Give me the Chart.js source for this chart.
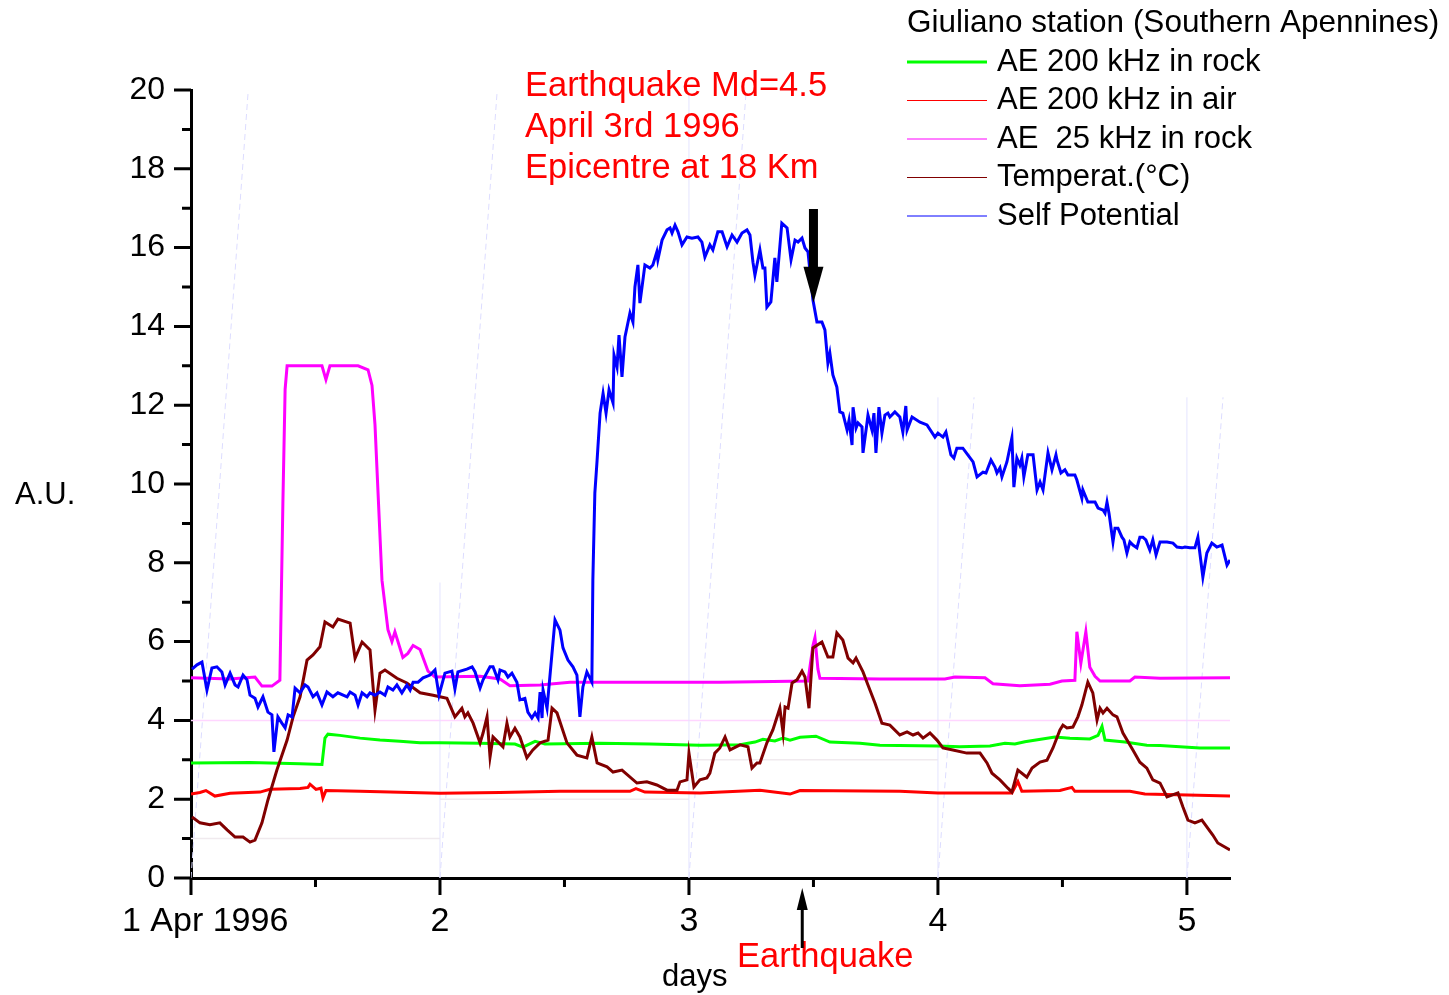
<!DOCTYPE html>
<html>
<head>
<meta charset="utf-8">
<script src="https://cdn.jsdelivr.net/npm/chart.js@4.4.0/dist/chart.umd.min.js"></script>
<style>
  html, body { margin: 0; padding: 0; background: #fff; }
  #wrap { width: 1449px; height: 995px; }
</style>
</head>
<body>
<div id="wrap"><canvas id="chart" width="1449" height="995"></canvas></div>
<script>
const FONT = '"Liberation Sans", Arial, sans-serif';

// axis ticks
const xTickValues = [1, 2, 3, 4, 5];
const xTickLabels = ['   1 Apr 1996', '2', '3', '4', '5'];
const xMinorTicks = [1.5, 2.5, 3.5, 4.5];
const yTickValues = [0, 2, 4, 6, 8, 10, 12, 14, 16, 18, 20];
const yMinorTicks = [1, 3, 5, 7, 9, 11, 13, 15, 17, 19];

// AE 200 kHz in rock
const rockDays = [1.000, 1.237, 1.438, 1.526, 1.538, 1.550, 1.598, 1.679, 1.759, 1.839, 1.920, 2.000, 2.161, 2.301, 2.333, 2.382, 2.422, 2.643, 2.843, 3.044, 3.205, 3.265, 3.297, 3.345, 3.378, 3.406, 3.446, 3.510, 3.566, 3.687, 3.767, 4.000, 4.088, 4.209, 4.269, 4.309, 4.349, 4.470, 4.530, 4.610, 4.643, 4.659, 4.671, 4.751, 4.839, 4.892, 5.052, 5.173];
const rockValues = [2.92, 2.93, 2.90, 2.88, 3.55, 3.65, 3.62, 3.55, 3.50, 3.47, 3.43, 3.43, 3.42, 3.40, 3.32, 3.47, 3.40, 3.42, 3.40, 3.37, 3.38, 3.45, 3.52, 3.48, 3.55, 3.50, 3.57, 3.60, 3.45, 3.42, 3.37, 3.35, 3.33, 3.35, 3.42, 3.40, 3.46, 3.58, 3.55, 3.53, 3.62, 3.85, 3.50, 3.45, 3.37, 3.36, 3.30, 3.30];

// AE 200 kHz in air
const airDays = [1.000, 1.036, 1.060, 1.096, 1.157, 1.277, 1.317, 1.438, 1.470, 1.478, 1.502, 1.522, 1.530, 1.542, 1.679, 2.000, 2.241, 2.482, 2.763, 2.787, 2.823, 3.044, 3.285, 3.406, 3.446, 3.847, 4.000, 4.297, 4.321, 4.337, 4.490, 4.538, 4.550, 4.771, 4.831, 5.173];
const airValues = [2.13, 2.17, 2.22, 2.08, 2.15, 2.18, 2.25, 2.27, 2.30, 2.38, 2.25, 2.28, 2.03, 2.22, 2.20, 2.15, 2.17, 2.20, 2.20, 2.27, 2.18, 2.16, 2.23, 2.13, 2.22, 2.20, 2.16, 2.16, 2.45, 2.20, 2.22, 2.30, 2.20, 2.20, 2.13, 2.08];

// AE 25 kHz in rock
const ae25Days = [1.000, 1.157, 1.257, 1.285, 1.325, 1.357, 1.369, 1.378, 1.386, 1.526, 1.542, 1.558, 1.671, 1.711, 1.727, 1.739, 1.767, 1.791, 1.807, 1.819, 1.851, 1.871, 1.892, 1.920, 1.952, 1.980, 2.161, 2.241, 2.281, 2.402, 2.522, 3.124, 3.478, 3.498, 3.506, 3.518, 3.526, 3.767, 4.028, 4.068, 4.189, 4.221, 4.329, 4.450, 4.498, 4.550, 4.558, 4.574, 4.594, 4.610, 4.631, 4.651, 4.771, 4.791, 4.892, 5.173];
const ae25Values = [5.08, 5.05, 5.10, 4.87, 4.87, 5.02, 9.50, 12.4, 13.0, 13.0, 12.65, 13.0, 13.0, 12.9, 12.5, 11.5, 7.56, 6.30, 6.00, 6.25, 5.60, 5.70, 5.90, 5.80, 5.25, 5.10, 5.12, 5.05, 4.88, 4.90, 4.97, 4.97, 5.00, 5.90, 6.10, 5.30, 5.07, 5.05, 5.05, 5.10, 5.08, 4.93, 4.88, 4.92, 5.00, 5.02, 6.25, 5.45, 6.25, 5.35, 5.12, 5.00, 5.00, 5.10, 5.07, 5.08];

// Temperature
const tempDays = [1.004, 1.036, 1.076, 1.116, 1.145, 1.177, 1.209, 1.237, 1.257, 1.285, 1.309, 1.345, 1.386, 1.410, 1.438, 1.466, 1.490, 1.518, 1.538, 1.570, 1.590, 1.639, 1.659, 1.687, 1.719, 1.739, 1.759, 1.779, 1.827, 1.867, 1.920, 1.972, 2.000, 2.028, 2.060, 2.088, 2.100, 2.112, 2.133, 2.161, 2.173, 2.189, 2.201, 2.213, 2.253, 2.269, 2.281, 2.301, 2.321, 2.349, 2.373, 2.402, 2.434, 2.450, 2.470, 2.510, 2.550, 2.590, 2.610, 2.631, 2.671, 2.695, 2.731, 2.791, 2.831, 2.871, 2.912, 2.952, 2.964, 2.992, 3.000, 3.020, 3.044, 3.072, 3.084, 3.104, 3.124, 3.145, 3.165, 3.205, 3.237, 3.253, 3.273, 3.285, 3.313, 3.337, 3.365, 3.378, 3.386, 3.398, 3.414, 3.434, 3.454, 3.466, 3.482, 3.498, 3.534, 3.558, 3.578, 3.594, 3.618, 3.639, 3.659, 3.671, 3.699, 3.719, 3.747, 3.775, 3.807, 3.847, 3.876, 3.900, 3.920, 3.940, 3.968, 3.996, 4.020, 4.060, 4.116, 4.169, 4.197, 4.217, 4.249, 4.281, 4.297, 4.321, 4.357, 4.378, 4.410, 4.438, 4.462, 4.490, 4.502, 4.518, 4.542, 4.562, 4.578, 4.602, 4.622, 4.639, 4.651, 4.663, 4.679, 4.703, 4.719, 4.743, 4.783, 4.811, 4.839, 4.863, 4.892, 4.920, 4.964, 4.984, 5.004, 5.032, 5.060, 5.104, 5.124, 5.173];
const tempValues = [1.55, 1.40, 1.35, 1.40, 1.22, 1.04, 1.04, 0.91, 0.96, 1.40, 1.98, 2.74, 3.50, 4.09, 4.60, 5.53, 5.66, 5.87, 6.50, 6.37, 6.57, 6.47, 5.58, 5.99, 5.79, 4.26, 5.20, 5.28, 5.07, 4.95, 4.70, 4.64, 4.60, 4.56, 4.09, 4.31, 4.09, 4.19, 3.93, 3.43, 3.68, 4.09, 3.07, 3.58, 3.33, 3.93, 3.58, 3.80, 3.58, 3.05, 3.25, 3.43, 3.50, 4.31, 4.19, 3.43, 3.12, 3.05, 3.58, 2.92, 2.82, 2.69, 2.74, 2.41, 2.44, 2.36, 2.23, 2.23, 2.44, 2.49, 3.17, 2.31, 2.49, 2.54, 2.66, 3.17, 3.30, 3.58, 3.25, 3.38, 3.33, 2.79, 2.92, 2.92, 3.43, 3.76, 4.31, 3.68, 4.34, 4.31, 4.95, 5.03, 5.25, 5.10, 4.31, 5.84, 5.99, 5.61, 5.61, 6.22, 6.04, 5.58, 5.46, 5.58, 5.23, 4.90, 4.44, 3.93, 3.88, 3.63, 3.71, 3.63, 3.68, 3.55, 3.68, 3.50, 3.30, 3.25, 3.17, 3.17, 2.92, 2.66, 2.49, 2.28, 2.18, 2.74, 2.56, 2.79, 2.94, 2.99, 3.30, 3.76, 3.88, 3.81, 3.83, 4.09, 4.39, 4.97, 4.70, 4.01, 4.31, 4.19, 4.31, 4.14, 4.09, 3.68, 3.25, 2.94, 2.79, 2.49, 2.41, 2.06, 2.16, 1.80, 1.47, 1.40, 1.47, 1.09, 0.89, 0.71];

// Self Potential
const spDays = [1.004, 1.024, 1.044, 1.064, 1.084, 1.104, 1.124, 1.137, 1.157, 1.177, 1.189, 1.209, 1.225, 1.237, 1.257, 1.269, 1.289, 1.309, 1.325, 1.333, 1.349, 1.365, 1.378, 1.390, 1.406, 1.418, 1.438, 1.458, 1.470, 1.490, 1.506, 1.526, 1.546, 1.570, 1.590, 1.627, 1.639, 1.659, 1.671, 1.687, 1.707, 1.719, 1.739, 1.759, 1.779, 1.791, 1.811, 1.827, 1.847, 1.867, 1.880, 1.892, 1.912, 1.932, 1.960, 1.980, 1.996, 2.020, 2.048, 2.060, 2.072, 2.108, 2.129, 2.141, 2.161, 2.173, 2.201, 2.213, 2.233, 2.241, 2.261, 2.273, 2.289, 2.309, 2.321, 2.341, 2.353, 2.369, 2.382, 2.394, 2.402, 2.410, 2.414, 2.430, 2.462, 2.482, 2.494, 2.514, 2.534, 2.550, 2.562, 2.574, 2.590, 2.610, 2.614, 2.622, 2.631, 2.643, 2.655, 2.667, 2.679, 2.695, 2.699, 2.711, 2.719, 2.731, 2.743, 2.763, 2.775, 2.783, 2.795, 2.803, 2.823, 2.843, 2.855, 2.871, 2.875, 2.892, 2.912, 2.924, 2.932, 2.944, 2.956, 2.972, 2.992, 3.012, 3.036, 3.052, 3.064, 3.084, 3.096, 3.116, 3.133, 3.153, 3.173, 3.193, 3.213, 3.233, 3.245, 3.257, 3.265, 3.285, 3.297, 3.305, 3.313, 3.329, 3.345, 3.353, 3.373, 3.394, 3.410, 3.426, 3.438, 3.454, 3.466, 3.478, 3.498, 3.514, 3.534, 3.546, 3.558, 3.566, 3.578, 3.594, 3.606, 3.618, 3.635, 3.643, 3.655, 3.659, 3.671, 3.679, 3.695, 3.699, 3.715, 3.719, 3.735, 3.743, 3.751, 3.763, 3.775, 3.787, 3.799, 3.807, 3.827, 3.847, 3.859, 3.871, 3.876, 3.896, 3.928, 3.956, 3.988, 4.000, 4.020, 4.032, 4.052, 4.064, 4.076, 4.100, 4.120, 4.141, 4.157, 4.181, 4.193, 4.213, 4.229, 4.237, 4.249, 4.257, 4.277, 4.297, 4.305, 4.317, 4.329, 4.337, 4.345, 4.361, 4.382, 4.398, 4.410, 4.422, 4.442, 4.458, 4.474, 4.478, 4.494, 4.510, 4.522, 4.550, 4.558, 4.578, 4.582, 4.602, 4.631, 4.643, 4.663, 4.671, 4.679, 4.687, 4.703, 4.711, 4.723, 4.739, 4.747, 4.759, 4.771, 4.783, 4.799, 4.811, 4.823, 4.835, 4.851, 4.863, 4.876, 4.892, 4.920, 4.944, 4.960, 4.980, 4.992, 5.012, 5.032, 5.044, 5.064, 5.080, 5.100, 5.120, 5.141, 5.161, 5.173];
const spValues = [5.30, 5.41, 5.48, 4.77, 5.33, 5.36, 5.23, 4.90, 5.20, 4.90, 4.85, 5.15, 5.03, 4.64, 4.56, 4.34, 4.60, 4.21, 4.14, 3.20, 4.09, 3.93, 3.81, 4.14, 4.09, 4.82, 4.70, 4.90, 4.85, 4.60, 4.70, 4.39, 4.72, 4.60, 4.70, 4.60, 4.72, 4.64, 4.39, 4.70, 4.60, 4.70, 4.64, 4.72, 4.64, 4.85, 4.77, 4.90, 4.70, 4.90, 4.77, 4.97, 4.97, 5.08, 5.15, 5.28, 4.64, 5.20, 5.25, 4.80, 5.23, 5.30, 5.36, 5.23, 4.82, 5.03, 5.36, 5.36, 5.03, 5.28, 5.23, 5.10, 5.20, 4.97, 4.52, 4.56, 4.21, 4.06, 4.19, 4.06, 4.72, 4.06, 4.77, 4.31, 6.55, 6.29, 5.84, 5.53, 5.36, 5.15, 4.09, 4.85, 5.23, 4.97, 7.56, 9.77, 10.6, 11.8, 12.3, 11.8, 12.39, 12.06, 13.27, 12.97, 13.78, 12.72, 13.73, 14.34, 14.11, 15.00, 15.56, 14.59, 15.56, 15.48, 15.56, 15.89, 15.69, 16.19, 16.45, 16.50, 16.37, 16.57, 16.40, 16.07, 16.27, 16.24, 16.27, 16.14, 15.76, 16.07, 15.94, 16.40, 16.40, 16.02, 16.32, 16.14, 16.37, 16.45, 16.32, 15.63, 15.30, 15.94, 15.48, 15.48, 14.49, 14.62, 15.74, 15.13, 16.62, 16.50, 15.69, 16.19, 16.14, 16.24, 15.99, 15.89, 14.67, 14.11, 14.11, 13.91, 13.07, 13.32, 12.77, 12.46, 11.83, 11.80, 11.37, 11.62, 10.99, 11.95, 11.42, 11.55, 11.45, 10.79, 11.55, 11.75, 11.37, 11.80, 10.79, 11.95, 11.29, 11.75, 11.80, 11.70, 11.83, 11.70, 11.32, 11.98, 11.37, 11.70, 11.57, 11.50, 11.19, 11.29, 11.19, 11.32, 10.74, 10.66, 10.91, 10.91, 10.74, 10.56, 10.18, 10.30, 10.28, 10.61, 10.43, 10.28, 10.41, 10.18, 10.56, 11.17, 9.92, 10.66, 10.48, 10.66, 10.18, 10.74, 10.74, 9.85, 10.05, 9.85, 10.79, 10.36, 10.74, 10.61, 10.28, 10.36, 10.23, 10.23, 10.10, 9.64, 9.85, 9.54, 9.54, 9.39, 9.34, 9.26, 9.54, 9.26, 8.53, 8.88, 8.88, 8.65, 8.58, 8.25, 8.53, 8.45, 8.38, 8.65, 8.65, 8.58, 8.32, 8.58, 8.20, 8.53, 8.53, 8.50, 8.40, 8.38, 8.40, 8.38, 8.38, 8.65, 7.64, 8.25, 8.50, 8.40, 8.45, 7.94, 8.07];

// faint guide lines left in the original plot (start/end points)
const guideVertDays = [2, 3, 4, 5];
const guideVertTops = [7.5, 20, 12.2, 12.2];
const guideSlantStart = [1, 2, 3, 4, 5];
const guideSlantEnd = [1.23, 2.23, 3.23, 4.145, 5.145];
const guideSlantTops = [20, 20, 20, 12.2, 12.2];
const guideHorizY = [1, 2, 3];
const guideHorizFrom = [1, 2, 3];
const guideHorizTo = [2, 3, 4];

const seriesLabels = ['AE 200 kHz in rock', 'AE 200 kHz in air', 'AE  25 kHz in rock', 'Temperat.(\u00B0C)', 'Self Potential'];
const seriesColors = ['#00ff00', '#ff0000', '#ff00ff', '#800000', '#0000ff'];
const legendLineWidths = [3, 1, 1, 1, 1];

function pts(xs, ys) {
    return xs.map((x, i) => ({ x: x, y: ys[i] }));
}

const seriesData = [
    pts(rockDays, rockValues),
    pts(airDays, airValues),
    pts(ae25Days, ae25Values),
    pts(tempDays, tempValues),
    pts(spDays, spValues)
];

const datasets = [];
seriesData.forEach((d, i) => {
    datasets.push({
        label: seriesLabels[i],
        data: d,
        borderColor: seriesColors[i],
        borderWidth: 3,
        pointRadius: 0,
        tension: 0,
        fill: false,
        order: 10 - i
    });
});

// guide lines, drawn underneath
guideVertDays.forEach((d, i) => {
    datasets.push({ label: '', data: [{ x: d, y: 0 }, { x: d, y: guideVertTops[i] }],
        borderColor: '#e4e4ff', borderWidth: 1, pointRadius: 0, order: 50 });
});
guideSlantStart.forEach((d, i) => {
    datasets.push({ label: '', data: [{ x: d, y: 0 }, { x: guideSlantEnd[i], y: guideSlantTops[i] }],
        borderColor: '#dcdcff', borderWidth: 1, borderDash: [6, 4], pointRadius: 0, order: 50 });
});
datasets.push({ label: '', data: [{ x: 1, y: 4 }, { x: 5.173, y: 4 }],
    borderColor: '#ffd6ff', borderWidth: 1.5, pointRadius: 0, order: 50 });
guideHorizY.forEach((y, i) => {
    datasets.push({ label: '', data: [{ x: guideHorizFrom[i], y: y }, { x: guideHorizTo[i], y: y }],
        borderColor: '#f0eaee', borderWidth: 1.5, pointRadius: 0, order: 50 });
});

const decorations = {
    id: 'decorations',
    afterDraw(chart) {
        const ctx = chart.ctx;
        const xs = chart.scales.x;
        const ys = chart.scales.y;
        const area = chart.chartArea;
        ctx.save();

        // tick marks
        ctx.strokeStyle = '#000';
        ctx.lineWidth = 3;
        ctx.beginPath();
        yTickValues.forEach(v => {
            const y = ys.getPixelForValue(v);
            ctx.moveTo(area.left - 17, y); ctx.lineTo(area.left, y);
        });
        yMinorTicks.forEach(v => {
            const y = ys.getPixelForValue(v);
            ctx.moveTo(area.left - 9, y); ctx.lineTo(area.left, y);
        });
        xTickValues.forEach(v => {
            const x = xs.getPixelForValue(v);
            ctx.moveTo(x, area.bottom); ctx.lineTo(x, area.bottom + 17);
        });
        xMinorTicks.forEach(v => {
            const x = xs.getPixelForValue(v);
            ctx.moveTo(x, area.bottom); ctx.lineTo(x, area.bottom + 9);
        });
        ctx.stroke();

        // legend
        ctx.textBaseline = 'middle';
        ctx.textAlign = 'left';
        ctx.fillStyle = '#000';
        ctx.font = '31.5px ' + FONT;
        ctx.fillText('Giuliano station (Southern Apennines)', 907, 23);
        ctx.font = '31px ' + FONT;
        seriesLabels.forEach((lab, i) => {
            const y = 62 + i * 38.5;
            ctx.strokeStyle = seriesColors[i];
            ctx.lineWidth = legendLineWidths[i];
            ctx.beginPath();
            ctx.moveTo(907, y); ctx.lineTo(987, y);
            ctx.stroke();
            ctx.fillStyle = '#000';
            ctx.fillText(lab, 997, y);
        });

        // earthquake note
        ctx.fillStyle = '#ff0000';
        ctx.font = '34.5px ' + FONT;
        ctx.fillText('Earthquake Md=4.5', 525, 86);
        ctx.fillText('April 3rd 1996', 525, 127);
        ctx.fillText('Epicentre at 18 Km', 525, 168);

        // axis titles
        ctx.fillStyle = '#000';
        ctx.font = '31px ' + FONT;
        ctx.fillText('A.U.', 15, 495);
        ctx.font = '31px ' + FONT;
        ctx.fillText('days', 662, 977);
        ctx.fillStyle = '#ff0000';
        ctx.font = '34.5px ' + FONT;
        ctx.fillText('Earthquake', 737, 957);

        // big arrow pointing at the quake on the curve
        ctx.fillStyle = '#000';
        const ax = xs.getPixelForValue(3.5);
        const tip = ys.getPixelForValue(14.6);
        ctx.fillRect(ax - 4.5, 209, 9, tip - 36 - 209 + 1);
        ctx.beginPath();
        ctx.moveTo(ax - 10, tip - 36);
        ctx.lineTo(ax + 10, tip - 36);
        ctx.lineTo(ax, tip);
        ctx.closePath();
        ctx.fill();

        // small arrow under the x axis
        const bx = xs.getPixelForValue(3.455);
        const btip = area.bottom + 10;
        ctx.fillRect(bx - 1.5, btip + 20, 3, 40);
        ctx.beginPath();
        ctx.moveTo(bx - 5.5, btip + 22);
        ctx.lineTo(bx + 5.5, btip + 22);
        ctx.lineTo(bx, btip);
        ctx.closePath();
        ctx.fill();

        ctx.restore();
    }
};

new Chart(document.getElementById('chart'), {
    type: 'line',
    data: { datasets: datasets },
    options: {
        responsive: false,
        animation: false,
        parsing: true,
        layout: { padding: { left: 0, top: 90, right: 219, bottom: 0 } },
        plugins: { legend: { display: false }, tooltip: { enabled: false } },
        scales: {
            x: {
                type: 'linear',
                min: 1,
                max: 5.173,
                afterBuildTicks: scale => { scale.ticks = xTickValues.map(v => ({ value: v })); },
                afterFit: scale => { scale.height = 117; },
                border: { color: '#000', width: 3 },
                grid: { drawOnChartArea: false, color: 'rgba(0,0,0,0)', tickLength: 17 },
                ticks: {
                    color: '#000',
                    font: { family: FONT, size: 34 },
                    padding: 6,
                    maxRotation: 0,
                    autoSkip: false,
                    callback: value => {
                        const i = xTickValues.indexOf(value);
                        return i >= 0 ? xTickLabels[i] : '';
                    }
                }
            },
            y: {
                min: 0,
                max: 20,
                afterBuildTicks: scale => { scale.ticks = yTickValues.map(v => ({ value: v })); },
                afterFit: scale => { scale.width = 191; },
                border: { color: '#000', width: 3 },
                grid: { drawOnChartArea: false, color: 'rgba(0,0,0,0)', tickLength: 17 },
                ticks: { color: '#000', font: { family: FONT, size: 32 }, padding: 9 }
            }
        }
    },
    plugins: [decorations]
});
</script>
</body>
</html>
